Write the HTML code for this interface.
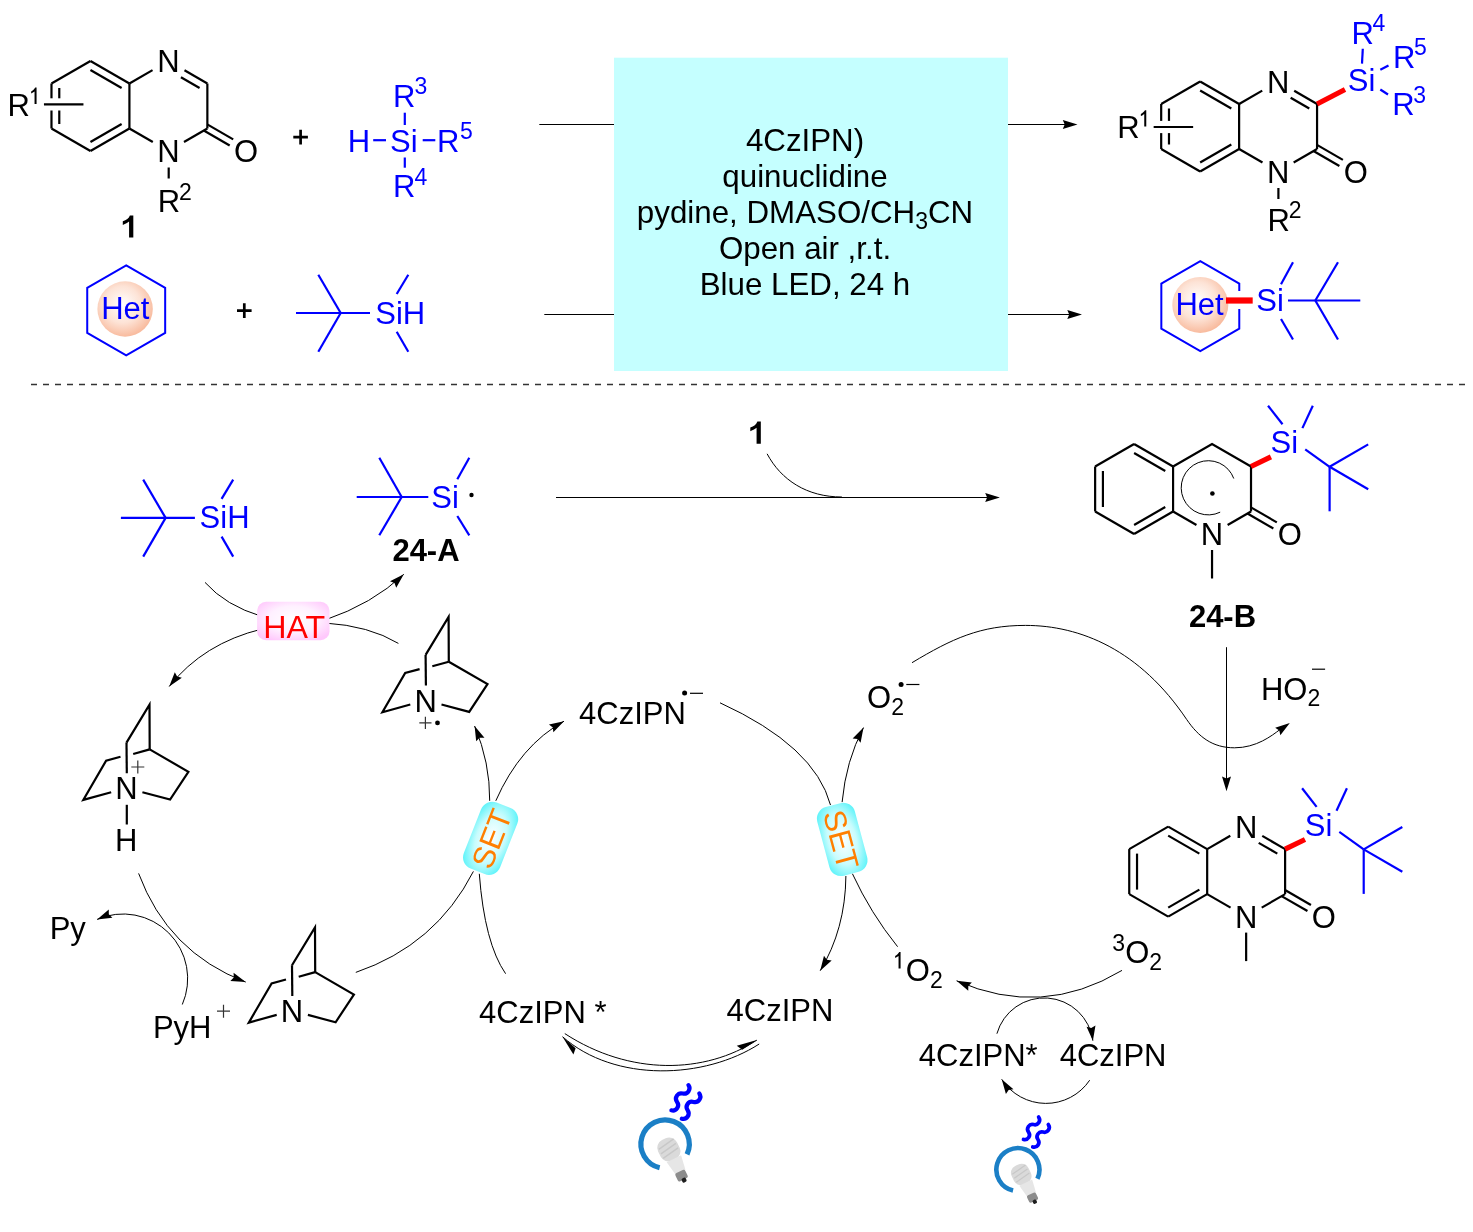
<!DOCTYPE html>
<html><head><meta charset="utf-8"><style>
html,body{margin:0;padding:0;background:#fff;}
svg{display:block;will-change:transform;font-family:"Liberation Sans",sans-serif;}
</style></head><body>
<svg width="1473" height="1232" viewBox="0 0 1473 1232">
<rect width="1473" height="1232" fill="#fff"/>
<line x1="90.45" y1="61.00" x2="129.42" y2="83.50" stroke="#000" stroke-width="2.2" stroke-linecap="butt"/>
<line x1="129.42" y1="83.50" x2="129.42" y2="128.50" stroke="#000" stroke-width="2.2" stroke-linecap="butt"/>
<line x1="129.42" y1="128.50" x2="90.45" y2="151.00" stroke="#000" stroke-width="2.2" stroke-linecap="butt"/>
<line x1="90.45" y1="151.00" x2="51.48" y2="128.50" stroke="#000" stroke-width="2.2" stroke-linecap="butt"/>
<line x1="51.48" y1="83.50" x2="90.45" y2="61.00" stroke="#000" stroke-width="2.2" stroke-linecap="butt"/>
<line x1="51.48" y1="128.50" x2="51.48" y2="110.50" stroke="#000" stroke-width="2.2" stroke-linecap="butt"/>
<line x1="51.48" y1="83.50" x2="51.48" y2="98.30" stroke="#000" stroke-width="2.2" stroke-linecap="butt"/>
<line x1="90.45" y1="70.00" x2="121.62" y2="88.00" stroke="#000" stroke-width="2.2" stroke-linecap="butt"/>
<line x1="121.62" y1="124.00" x2="90.45" y2="142.00" stroke="#000" stroke-width="2.2" stroke-linecap="butt"/>
<line x1="59.28" y1="124.00" x2="59.28" y2="110.50" stroke="#000" stroke-width="2.2" stroke-linecap="butt"/>
<line x1="59.28" y1="88.00" x2="59.28" y2="98.30" stroke="#000" stroke-width="2.2" stroke-linecap="butt"/>
<line x1="43.95" y1="104.40" x2="83.45" y2="104.40" stroke="#000" stroke-width="2.2" stroke-linecap="butt"/>
<line x1="129.42" y1="83.50" x2="152.54" y2="70.15" stroke="#000" stroke-width="2.2" stroke-linecap="butt"/>
<line x1="184.50" y1="70.30" x2="207.36" y2="83.50" stroke="#000" stroke-width="2.2" stroke-linecap="butt"/>
<line x1="180.95" y1="77.25" x2="199.57" y2="88.00" stroke="#000" stroke-width="2.2" stroke-linecap="butt"/>
<line x1="207.36" y1="83.50" x2="207.36" y2="128.50" stroke="#000" stroke-width="2.2" stroke-linecap="butt"/>
<line x1="207.36" y1="128.50" x2="183.98" y2="142.00" stroke="#000" stroke-width="2.2" stroke-linecap="butt"/>
<line x1="152.80" y1="142.00" x2="129.42" y2="128.50" stroke="#000" stroke-width="2.2" stroke-linecap="butt"/>
<line x1="207.29" y1="124.42" x2="233.19" y2="139.37" stroke="#000" stroke-width="2.2" stroke-linecap="butt"/>
<line x1="203.79" y1="130.48" x2="229.69" y2="145.43" stroke="#000" stroke-width="2.2" stroke-linecap="butt"/>
<text x="168.39" y="72.30" font-size="31" fill="#000" text-anchor="middle" font-weight="normal" >N</text>
<text x="168.39" y="162.20" font-size="31" fill="#000" text-anchor="middle" font-weight="normal" >N</text>
<text x="246.13" y="162.40" font-size="31" fill="#000" text-anchor="middle" font-weight="normal" >O</text>
<line x1="168.70" y1="167.50" x2="168.70" y2="178.50" stroke="#000" stroke-width="2.2" stroke-linecap="butt"/>
<text x="169.00" y="211.90" font-size="31" fill="#000" text-anchor="middle" font-weight="normal" >R</text>
<text x="179.00" y="199.70" font-size="23" fill="#000" text-anchor="start" font-weight="normal" >2</text>
<text x="7.60" y="115.80" font-size="31" fill="#000" text-anchor="start" font-weight="normal" >R</text>
<path d="M34.55,104.00 L36.57,104.00 L36.57,87.54 L35.25,87.54 Q34.73,88.60 33.53,89.75 Q32.32,90.89 31.16,91.47 L31.16,93.42 Q32.00,93.11 32.94,92.56 Q33.88,92.01 34.55,91.43 Z" fill="#000"/>
<path d="M129.08,237.60 L133.32,237.60 L133.32,215.41 L129.88,215.41 Q129.16,217.47 127.31,219.01 Q125.46,220.56 122.80,221.34 L122.80,225.04 Q124.16,224.58 125.98,223.60 Q127.80,222.61 129.08,221.48 Z" fill="#000"/>
<path d="M293.3,137.1 H307.9 M300.6,129.8 V144.5" stroke="#000" stroke-width="2.7"/>
<text x="359.00" y="151.80" font-size="31" fill="#0000ff" text-anchor="middle" font-weight="normal" >H</text>
<text x="403.80" y="151.80" font-size="31" fill="#0000ff" text-anchor="middle" font-weight="normal" >Si</text>
<text x="437.00" y="151.80" font-size="31" fill="#0000ff" text-anchor="start" font-weight="normal" >R</text>
<text x="460.00" y="138.60" font-size="23" fill="#0000ff" text-anchor="start" font-weight="normal" >5</text>
<text x="404.30" y="107.00" font-size="31" fill="#0000ff" text-anchor="middle" font-weight="normal" >R</text>
<text x="414.60" y="94.40" font-size="23" fill="#0000ff" text-anchor="start" font-weight="normal" >3</text>
<text x="404.30" y="196.60" font-size="31" fill="#0000ff" text-anchor="middle" font-weight="normal" >R</text>
<text x="414.60" y="184.80" font-size="23" fill="#0000ff" text-anchor="start" font-weight="normal" >4</text>
<line x1="373.20" y1="140.20" x2="386.00" y2="140.20" stroke="#0000ff" stroke-width="2.2" stroke-linecap="butt"/>
<line x1="422.70" y1="140.20" x2="435.30" y2="140.20" stroke="#0000ff" stroke-width="2.2" stroke-linecap="butt"/>
<line x1="404.80" y1="112.70" x2="404.80" y2="125.00" stroke="#0000ff" stroke-width="2.2" stroke-linecap="butt"/>
<line x1="404.80" y1="157.50" x2="404.80" y2="167.70" stroke="#0000ff" stroke-width="2.2" stroke-linecap="butt"/>
<rect x="614" y="57.7" width="394" height="313.3" fill="#c5ffff"/>
<text x="805.00" y="150.50" font-size="31.3" fill="#000" text-anchor="middle" font-weight="normal" >4CzIPN)</text>
<text x="805.00" y="187.00" font-size="31.3" fill="#000" text-anchor="middle" font-weight="normal" >quinuclidine</text>
<text x="805.00" y="223.00" font-size="31.3" fill="#000" text-anchor="middle" font-weight="normal" >pydine, DMASO/CH<tspan font-size="23" dy="6">3</tspan><tspan dy="-6">CN</tspan></text>
<text x="805.00" y="258.70" font-size="31.3" fill="#000" text-anchor="middle" font-weight="normal" >Open air ,r.t.</text>
<text x="805.00" y="294.70" font-size="31.3" fill="#000" text-anchor="middle" font-weight="normal" >Blue LED, 24 h</text>
<line x1="539.30" y1="124.50" x2="614.00" y2="124.50" stroke="#000" stroke-width="1.0" stroke-linecap="butt"/>
<line x1="1008.00" y1="124.50" x2="1070.00" y2="124.50" stroke="#000" stroke-width="1.0" stroke-linecap="butt"/>
<path d="M1077.50,124.50 L1062.80,129.00 L1064.70,124.50 L1062.80,120.00 Z" fill="#000" stroke="none"/>
<line x1="544.30" y1="314.50" x2="614.00" y2="314.50" stroke="#000" stroke-width="1.0" stroke-linecap="butt"/>
<line x1="1008.00" y1="314.50" x2="1075.00" y2="314.50" stroke="#000" stroke-width="1.0" stroke-linecap="butt"/>
<path d="M1082.00,314.50 L1067.30,319.00 L1069.20,314.50 L1067.30,310.00 Z" fill="#000" stroke="none"/>
<line x1="1200.15" y1="81.50" x2="1239.12" y2="104.00" stroke="#000" stroke-width="2.2" stroke-linecap="butt"/>
<line x1="1239.12" y1="104.00" x2="1239.12" y2="149.00" stroke="#000" stroke-width="2.2" stroke-linecap="butt"/>
<line x1="1239.12" y1="149.00" x2="1200.15" y2="171.50" stroke="#000" stroke-width="2.2" stroke-linecap="butt"/>
<line x1="1200.15" y1="171.50" x2="1161.18" y2="149.00" stroke="#000" stroke-width="2.2" stroke-linecap="butt"/>
<line x1="1161.18" y1="104.00" x2="1200.15" y2="81.50" stroke="#000" stroke-width="2.2" stroke-linecap="butt"/>
<line x1="1161.18" y1="149.00" x2="1161.18" y2="133.10" stroke="#000" stroke-width="2.2" stroke-linecap="butt"/>
<line x1="1161.18" y1="104.00" x2="1161.18" y2="120.90" stroke="#000" stroke-width="2.2" stroke-linecap="butt"/>
<line x1="1200.15" y1="90.50" x2="1231.32" y2="108.50" stroke="#000" stroke-width="2.2" stroke-linecap="butt"/>
<line x1="1231.32" y1="144.50" x2="1200.15" y2="162.50" stroke="#000" stroke-width="2.2" stroke-linecap="butt"/>
<line x1="1168.98" y1="144.50" x2="1168.98" y2="133.10" stroke="#000" stroke-width="2.2" stroke-linecap="butt"/>
<line x1="1168.98" y1="108.50" x2="1168.98" y2="120.90" stroke="#000" stroke-width="2.2" stroke-linecap="butt"/>
<line x1="1153.65" y1="127.00" x2="1193.15" y2="127.00" stroke="#000" stroke-width="2.2" stroke-linecap="butt"/>
<line x1="1239.12" y1="104.00" x2="1262.24" y2="90.65" stroke="#000" stroke-width="2.2" stroke-linecap="butt"/>
<line x1="1294.20" y1="90.80" x2="1317.06" y2="104.00" stroke="#000" stroke-width="2.2" stroke-linecap="butt"/>
<line x1="1290.65" y1="97.75" x2="1309.27" y2="108.50" stroke="#000" stroke-width="2.2" stroke-linecap="butt"/>
<line x1="1317.06" y1="104.00" x2="1317.06" y2="149.00" stroke="#000" stroke-width="2.2" stroke-linecap="butt"/>
<line x1="1317.06" y1="149.00" x2="1293.68" y2="162.50" stroke="#000" stroke-width="2.2" stroke-linecap="butt"/>
<line x1="1262.50" y1="162.50" x2="1239.12" y2="149.00" stroke="#000" stroke-width="2.2" stroke-linecap="butt"/>
<line x1="1316.99" y1="144.92" x2="1342.89" y2="159.87" stroke="#000" stroke-width="2.2" stroke-linecap="butt"/>
<line x1="1313.49" y1="150.98" x2="1339.39" y2="165.93" stroke="#000" stroke-width="2.2" stroke-linecap="butt"/>
<text x="1278.09" y="92.80" font-size="31" fill="#000" text-anchor="middle" font-weight="normal" >N</text>
<text x="1278.09" y="182.70" font-size="31" fill="#000" text-anchor="middle" font-weight="normal" >N</text>
<text x="1355.83" y="182.90" font-size="31" fill="#000" text-anchor="middle" font-weight="normal" >O</text>
<line x1="1278.40" y1="188.00" x2="1278.40" y2="199.00" stroke="#000" stroke-width="2.2" stroke-linecap="butt"/>
<text x="1278.70" y="230.50" font-size="31" fill="#000" text-anchor="middle" font-weight="normal" >R</text>
<text x="1288.70" y="218.30" font-size="23" fill="#000" text-anchor="start" font-weight="normal" >2</text>
<text x="1117.30" y="138.40" font-size="31" fill="#000" text-anchor="start" font-weight="normal" >R</text>
<path d="M1144.25,126.60 L1146.27,126.60 L1146.27,110.14 L1144.95,110.14 Q1144.43,111.20 1143.23,112.35 Q1142.02,113.49 1140.86,114.07 L1140.86,116.02 Q1141.70,115.71 1142.64,115.16 Q1143.58,114.61 1144.25,114.03 Z" fill="#000"/>
<line x1="1317.06" y1="104.00" x2="1345.00" y2="89.50" stroke="#ff0000" stroke-width="5.2" stroke-linecap="butt"/>
<text x="1361.50" y="91.00" font-size="31" fill="#0000ff" text-anchor="middle" font-weight="normal" >Si</text>
<text x="1351.40" y="43.50" font-size="31" fill="#0000ff" text-anchor="start" font-weight="normal" >R</text>
<text x="1372.40" y="30.70" font-size="23" fill="#0000ff" text-anchor="start" font-weight="normal" >4</text>
<text x="1393.00" y="68.20" font-size="31" fill="#0000ff" text-anchor="start" font-weight="normal" >R</text>
<text x="1414.00" y="55.00" font-size="23" fill="#0000ff" text-anchor="start" font-weight="normal" >5</text>
<text x="1392.20" y="115.30" font-size="31" fill="#0000ff" text-anchor="start" font-weight="normal" >R</text>
<text x="1413.20" y="102.50" font-size="23" fill="#0000ff" text-anchor="start" font-weight="normal" >3</text>
<line x1="1362.80" y1="48.80" x2="1362.00" y2="63.60" stroke="#0000ff" stroke-width="2.2" stroke-linecap="butt"/>
<line x1="1380.30" y1="69.80" x2="1388.50" y2="65.50" stroke="#0000ff" stroke-width="2.2" stroke-linecap="butt"/>
<line x1="1380.30" y1="89.50" x2="1388.00" y2="94.50" stroke="#0000ff" stroke-width="2.2" stroke-linecap="butt"/>
<defs><radialGradient id="hg" cx="0.45" cy="0.42" r="0.6"><stop offset="0" stop-color="#ffffff"/><stop offset="0.55" stop-color="#fde3d6"/><stop offset="1" stop-color="#f8b89a"/></radialGradient><radialGradient id="sg" cx="0.5" cy="0.5" r="0.6"><stop offset="0" stop-color="#ffffff"/><stop offset="0.6" stop-color="#c8fcfd"/><stop offset="1" stop-color="#66f4fa"/></radialGradient><radialGradient id="pg" cx="0.5" cy="0.45" r="0.62"><stop offset="0" stop-color="#ffffff"/><stop offset="0.55" stop-color="#fff0ff"/><stop offset="1" stop-color="#ffc8fc"/></radialGradient></defs>
<path d="M126.20,265.40 L165.17,287.90 L165.17,332.90 L126.20,355.40 L87.23,332.90 L87.23,287.90 Z" fill="none" stroke="#0000ff" stroke-width="2" stroke-linejoin="miter"/>
<circle cx="125.1" cy="309" r="27.7" fill="url(#hg)"/>
<text x="125.30" y="318.80" font-size="31" fill="#0000ff" text-anchor="middle" font-weight="normal" >Het</text>
<path d="M237,310.6 H251.6 M244.3,303.3 V318" stroke="#000" stroke-width="2.7"/>
<line x1="296.00" y1="313.00" x2="370.00" y2="313.00" stroke="#0000ff" stroke-width="2.2" stroke-linecap="butt"/>
<line x1="340.70" y1="313.00" x2="318.30" y2="274.70" stroke="#0000ff" stroke-width="2.2" stroke-linecap="butt"/>
<line x1="340.70" y1="313.00" x2="318.30" y2="351.70" stroke="#0000ff" stroke-width="2.2" stroke-linecap="butt"/>
<line x1="396.70" y1="294.00" x2="408.30" y2="274.70" stroke="#0000ff" stroke-width="2.2" stroke-linecap="butt"/>
<line x1="396.70" y1="331.70" x2="408.30" y2="351.70" stroke="#0000ff" stroke-width="2.2" stroke-linecap="butt"/>
<text x="375.30" y="323.70" font-size="31" fill="#0000ff" text-anchor="start" font-weight="normal" >SiH</text>
<path d="M1239.27,291.00 L1239.27,283.70 L1200.30,261.20 L1161.33,283.70 L1161.33,328.70 L1200.30,351.20 L1239.27,328.70 L1239.27,309.00" fill="none" stroke="#0000ff" stroke-width="2" stroke-linejoin="miter"/>
<circle cx="1200.3" cy="304.9" r="28" fill="url(#hg)"/>
<text x="1199.50" y="314.80" font-size="31" fill="#0000ff" text-anchor="middle" font-weight="normal" >Het</text>
<line x1="1226.00" y1="300.50" x2="1252.70" y2="300.50" stroke="#ff0000" stroke-width="6.2" stroke-linecap="butt"/>
<text x="1270.00" y="311.30" font-size="31" fill="#0000ff" text-anchor="middle" font-weight="normal" >Si</text>
<line x1="1281.00" y1="284.30" x2="1293.00" y2="262.20" stroke="#0000ff" stroke-width="2.2" stroke-linecap="butt"/>
<line x1="1281.00" y1="319.00" x2="1293.00" y2="339.50" stroke="#0000ff" stroke-width="2.2" stroke-linecap="butt"/>
<line x1="1288.00" y1="300.50" x2="1360.30" y2="300.50" stroke="#0000ff" stroke-width="2.2" stroke-linecap="butt"/>
<line x1="1315.30" y1="300.50" x2="1338.00" y2="262.20" stroke="#0000ff" stroke-width="2.2" stroke-linecap="butt"/>
<line x1="1315.30" y1="300.50" x2="1338.00" y2="339.50" stroke="#0000ff" stroke-width="2.2" stroke-linecap="butt"/>
<line x1="31.00" y1="384.50" x2="1465.00" y2="384.50" stroke="#333" stroke-width="1.6" stroke-linecap="butt" stroke-dasharray="6 6"/>
<line x1="120.90" y1="517.90" x2="194.90" y2="517.90" stroke="#0000ff" stroke-width="2.2" stroke-linecap="butt"/>
<line x1="165.60" y1="517.90" x2="143.20" y2="479.60" stroke="#0000ff" stroke-width="2.2" stroke-linecap="butt"/>
<line x1="165.60" y1="517.90" x2="143.20" y2="556.60" stroke="#0000ff" stroke-width="2.2" stroke-linecap="butt"/>
<line x1="221.60" y1="498.90" x2="233.20" y2="479.60" stroke="#0000ff" stroke-width="2.2" stroke-linecap="butt"/>
<line x1="221.60" y1="536.60" x2="233.20" y2="556.60" stroke="#0000ff" stroke-width="2.2" stroke-linecap="butt"/>
<text x="199.60" y="528.30" font-size="31" fill="#0000ff" text-anchor="start" font-weight="normal" >SiH</text>
<line x1="356.70" y1="497.00" x2="428.30" y2="497.00" stroke="#0000ff" stroke-width="2.2" stroke-linecap="butt"/>
<line x1="401.70" y1="497.00" x2="379.30" y2="457.70" stroke="#0000ff" stroke-width="2.2" stroke-linecap="butt"/>
<line x1="401.70" y1="497.00" x2="379.30" y2="535.30" stroke="#0000ff" stroke-width="2.2" stroke-linecap="butt"/>
<line x1="457.30" y1="479.30" x2="469.30" y2="457.70" stroke="#0000ff" stroke-width="2.2" stroke-linecap="butt"/>
<line x1="457.30" y1="516.00" x2="469.30" y2="535.30" stroke="#0000ff" stroke-width="2.2" stroke-linecap="butt"/>
<text x="431.30" y="507.70" font-size="31" fill="#0000ff" text-anchor="start" font-weight="normal" >Si</text>
<circle cx="471.5" cy="495" r="2.2" fill="#000"/>
<text x="426.00" y="561.00" font-size="31" fill="#000" text-anchor="middle" font-weight="bold" >24-A</text>
<path d="M205.00,582.40 Q225.50,605.55 262.00,616.50" fill="none" stroke="#000" stroke-width="1.0"/>
<path d="M325.00,620.00 Q372.60,603.85 403.80,574.30" fill="none" stroke="#000" stroke-width="1.0"/>
<path d="M403.80,574.30 L396.22,587.68 L394.51,583.10 L390.03,581.14 Z" fill="#000" stroke="none"/>
<path d="M398.40,643.40 Q369.30,625.80 325.00,623.00" fill="none" stroke="#000" stroke-width="1.0"/>
<path d="M262.00,629.00 Q203.40,643.25 169.20,686.50" fill="none" stroke="#000" stroke-width="1.0"/>
<path d="M169.20,686.50 L174.79,672.18 L177.14,676.46 L181.85,677.76 Z" fill="#000" stroke="none"/>
<rect x="257.1" y="601.8" width="72.4" height="38.4" rx="9" ry="9" fill="url(#pg)"/>
<text x="294.20" y="638.30" font-size="32.2" fill="#ff0000" text-anchor="middle" font-weight="normal" >HAT</text>
<path d="M425.60,654.90 L448.60,617.00 L448.80,661.70" fill="none" stroke="#000" stroke-width="2.2" stroke-linejoin="miter"/>
<line x1="425.60" y1="654.90" x2="425.90" y2="685.50" stroke="#000" stroke-width="2.2" stroke-linecap="butt"/>
<path d="M448.80,661.70 L432.30,666.30" fill="none" stroke="#000" stroke-width="2.2" stroke-linejoin="miter"/>
<path d="M419.60,669.10 L405.20,673.00 L382.40,712.20 L410.30,704.50" fill="none" stroke="#000" stroke-width="2.2" stroke-linejoin="miter"/>
<path d="M448.80,661.70 L487.50,684.10 L469.20,711.90 L441.50,704.50" fill="none" stroke="#000" stroke-width="2.2" stroke-linejoin="miter"/>
<text x="425.60" y="711.60" font-size="31" fill="#000" text-anchor="middle" font-weight="normal" >N</text>
<path d="M419.3,722.9 H431.5 M425.4,716.8 V729" stroke="#333" stroke-width="1.2"/>
<circle cx="437.5" cy="722.9" r="2.4" fill="#000"/>
<path d="M126.50,742.60 L149.50,704.70 L149.70,749.40" fill="none" stroke="#000" stroke-width="2.2" stroke-linejoin="miter"/>
<line x1="126.50" y1="742.60" x2="126.80" y2="773.20" stroke="#000" stroke-width="2.2" stroke-linecap="butt"/>
<path d="M149.70,749.40 L133.20,754.00" fill="none" stroke="#000" stroke-width="2.2" stroke-linejoin="miter"/>
<path d="M120.50,756.80 L106.10,760.70 L83.30,799.90 L111.20,792.20" fill="none" stroke="#000" stroke-width="2.2" stroke-linejoin="miter"/>
<path d="M149.70,749.40 L188.40,771.80 L170.10,799.60 L142.40,792.20" fill="none" stroke="#000" stroke-width="2.2" stroke-linejoin="miter"/>
<text x="126.50" y="799.30" font-size="31" fill="#000" text-anchor="middle" font-weight="normal" >N</text>
<path d="M131.3,767 H144.3 M137.8,760.5 V773.5" stroke="#333" stroke-width="1.2"/>
<line x1="126.80" y1="804.80" x2="126.80" y2="824.50" stroke="#000" stroke-width="2.2" stroke-linecap="butt"/>
<text x="126.20" y="850.80" font-size="31" fill="#000" text-anchor="middle" font-weight="normal" >H</text>
<path d="M292.00,965.30 L315.00,927.40 L315.20,972.10" fill="none" stroke="#000" stroke-width="2.2" stroke-linejoin="miter"/>
<line x1="292.00" y1="965.30" x2="292.30" y2="995.90" stroke="#000" stroke-width="2.2" stroke-linecap="butt"/>
<path d="M315.20,972.10 L298.70,976.70" fill="none" stroke="#000" stroke-width="2.2" stroke-linejoin="miter"/>
<path d="M286.00,979.50 L271.60,983.40 L248.80,1022.60 L276.70,1014.90" fill="none" stroke="#000" stroke-width="2.2" stroke-linejoin="miter"/>
<path d="M315.20,972.10 L353.90,994.50 L335.60,1022.30 L307.90,1014.90" fill="none" stroke="#000" stroke-width="2.2" stroke-linejoin="miter"/>
<text x="292.00" y="1022.00" font-size="31" fill="#000" text-anchor="middle" font-weight="normal" >N</text>
<text x="49.70" y="939.10" font-size="31" fill="#000" text-anchor="start" font-weight="normal" >Py</text>
<text x="152.90" y="1037.70" font-size="31" fill="#000" text-anchor="start" font-weight="normal" >PyH</text>
<path d="M217,1011.2 H230 M223.5,1004.7 V1017.7" stroke="#333" stroke-width="1.2"/>
<path d="M138.60,873.40 Q167.85,952.25 245.70,982.10" fill="none" stroke="#000" stroke-width="1.0"/>
<path d="M245.70,982.10 L230.36,981.04 L233.75,977.52 L233.59,972.64 Z" fill="#000" stroke="none"/>
<path d="M182.30,1004.50 A64.68,64.68 0 0 0 97.10,919.40" fill="none" stroke="#000" stroke-width="1.0"/>
<path d="M97.10,919.40 L108.77,909.39 L108.83,914.27 L112.37,917.63 Z" fill="#000" stroke="none"/>
<line x1="556.00" y1="497.50" x2="990.00" y2="497.50" stroke="#000" stroke-width="1.0" stroke-linecap="butt"/>
<path d="M999.90,497.50 L985.20,502.00 L987.10,497.50 L985.20,493.00 Z" fill="#000" stroke="none"/>
<path d="M756.58,443.80 L760.82,443.80 L760.82,421.61 L757.38,421.61 Q756.66,423.67 754.81,425.21 Q752.96,426.76 750.30,427.54 L750.30,431.24 Q751.66,430.78 753.48,429.80 Q755.30,428.81 756.58,427.68 Z" fill="#000"/>
<path d="M767.10,453.80 C781.10,480.00 806.90,497.00 841.90,497.00" fill="none" stroke="#000" stroke-width="1.0"/>
<text x="579.10" y="723.50" font-size="31" fill="#000" text-anchor="start" font-weight="normal" >4CzIPN</text>
<circle cx="684.6" cy="693.1" r="2.5" fill="#000"/>
<line x1="690.00" y1="693.30" x2="703.00" y2="693.30" stroke="#000" stroke-width="1.2" stroke-linecap="butt"/>
<path d="M355.80,972.40 Q435.80,945.10 473.40,871.40" fill="none" stroke="#000" stroke-width="1.0"/>
<path d="M495.80,800.80 Q520.10,745.60 564.00,721.20" fill="none" stroke="#000" stroke-width="1.0"/>
<path d="M564.00,721.20 L553.34,732.27 L552.81,727.42 L548.97,724.41 Z" fill="#000" stroke="none"/>
<path d="M505.60,973.70 Q484.55,943.25 479.30,873.80" fill="none" stroke="#000" stroke-width="1.0"/>
<path d="M489.70,800.80 Q490.05,762.60 474.60,726.00" fill="none" stroke="#000" stroke-width="1.0"/>
<path d="M474.60,726.00 L484.46,737.79 L479.58,737.79 L476.17,741.29 Z" fill="#000" stroke="none"/>
<g transform="translate(490.6,838.3) rotate(-68.5)"><rect x="-35.5" y="-19.5" width="71" height="39" rx="12" ry="12" fill="url(#sg)"/><text x="0" y="12" font-size="31" fill="#ff7f00" text-anchor="middle">SET</text></g>
<path d="M720.00,702.80 Q814.75,746.10 830.50,805.00" fill="none" stroke="#000" stroke-width="1.0"/>
<path d="M845.90,876.00 Q845.35,929.25 820.20,970.70" fill="none" stroke="#000" stroke-width="1.0"/>
<path d="M820.20,970.70 L823.98,955.80 L826.84,959.76 L831.67,960.47 Z" fill="#000" stroke="none"/>
<path d="M897.60,946.70 Q870.60,913.20 852.40,873.70" fill="none" stroke="#000" stroke-width="1.0"/>
<path d="M842.10,802.10 Q846.00,760.55 863.50,727.60" fill="none" stroke="#000" stroke-width="1.0"/>
<path d="M863.50,727.60 L860.58,742.69 L857.50,738.90 L852.63,738.47 Z" fill="#000" stroke="none"/>
<g transform="translate(842.2,839.4) rotate(75)"><rect x="-35.5" y="-19.5" width="71" height="39" rx="12" ry="12" fill="url(#sg)"/><text x="0" y="12" font-size="31" fill="#ff7f00" text-anchor="middle">SET</text></g>
<text x="867.10" y="707.80" font-size="31" fill="#000" text-anchor="start" font-weight="normal" >O</text>
<text x="891.20" y="715.10" font-size="23" fill="#000" text-anchor="start" font-weight="normal" >2</text>
<circle cx="901.1" cy="684.5" r="2.5" fill="#000"/>
<line x1="906.30" y1="684.50" x2="919.40" y2="684.50" stroke="#000" stroke-width="1.2" stroke-linecap="butt"/>
<text x="479.00" y="1023.00" font-size="31" fill="#000" text-anchor="start" font-weight="normal" >4CzIPN *</text>
<text x="726.60" y="1021.30" font-size="31" fill="#000" text-anchor="start" font-weight="normal" >4CzIPN</text>
<path d="M564.80,1033.60 C630.00,1076.00 705.00,1074.00 756.90,1040.10" fill="none" stroke="#000" stroke-width="1.0"/>
<path d="M756.90,1040.10 L742.25,1049.67 L736.76,1045.85 Z" fill="#000" stroke="none"/>
<path d="M759.20,1044.00 C705.00,1079.00 615.00,1083.00 562.50,1036.70" fill="none" stroke="#000" stroke-width="1.0"/>
<path d="M562.50,1036.70 L575.63,1048.28 L573.40,1054.58 Z" fill="#000" stroke="none"/>
<path d="M898.55,968.50 L900.57,968.50 L900.57,952.04 L899.25,952.04 Q898.73,953.10 897.53,954.25 Q896.32,955.39 895.16,955.97 L895.16,957.92 Q896.00,957.61 896.94,957.06 Q897.88,956.51 898.55,955.93 Z" fill="#000"/>
<text x="905.70" y="980.70" font-size="31" fill="#000" text-anchor="start" font-weight="normal" >O</text>
<text x="929.90" y="987.90" font-size="23" fill="#000" text-anchor="start" font-weight="normal" >2</text>
<path d="M912,662.7 C952,638.7 980.4,625.4 1025.4,625.4 C1080.4,625.4 1140,650 1186.7,719.5 C1198.7,737 1212.5,747.8 1234.5,747.8 C1256.5,747.8 1271.8,735.7 1280,729.5" fill="none" stroke="#000" stroke-width="1.0"/>
<path d="M1289.80,723.10 L1280.34,735.22 L1279.31,730.44 L1275.18,727.84 Z" fill="#000" stroke="none"/>
<text x="1222.50" y="626.90" font-size="31" fill="#000" text-anchor="middle" font-weight="bold" >24-B</text>
<line x1="1226.50" y1="647.20" x2="1226.50" y2="780.00" stroke="#000" stroke-width="1.0" stroke-linecap="butt"/>
<path d="M1226.50,791.20 L1222.00,776.50 L1226.50,778.40 L1231.00,776.50 Z" fill="#000" stroke="none"/>
<text x="1260.90" y="699.50" font-size="31" fill="#000" text-anchor="start" font-weight="normal" >HO</text>
<text x="1307.60" y="706.30" font-size="23" fill="#000" text-anchor="start" font-weight="normal" >2</text>
<line x1="1312.00" y1="669.20" x2="1325.10" y2="669.20" stroke="#000" stroke-width="1.2" stroke-linecap="butt"/>
<path d="M1122.00,970.40 Q1042.10,1018.40 956.60,980.80" fill="none" stroke="#000" stroke-width="1.0"/>
<path d="M956.60,980.80 L971.87,982.60 L968.32,985.95 L968.24,990.84 Z" fill="#000" stroke="none"/>
<text x="1112.30" y="951.30" font-size="23" fill="#000" text-anchor="start" font-weight="normal" >3</text>
<text x="1125.20" y="963.30" font-size="31" fill="#000" text-anchor="start" font-weight="normal" >O</text>
<text x="1149.30" y="970.40" font-size="23" fill="#000" text-anchor="start" font-weight="normal" >2</text>
<path d="M996.90,1033.70 A49.13,49.13 0 0 1 1092.90,1040.70" fill="none" stroke="#000" stroke-width="1.0"/>
<path d="M1092.90,1040.70 L1086.55,1026.70 L1091.25,1028.01 L1095.47,1025.54 Z" fill="#000" stroke="none"/>
<path d="M1089.70,1080.20 A52.76,52.76 0 0 1 1001.70,1079.30" fill="none" stroke="#000" stroke-width="1.0"/>
<path d="M1001.70,1079.30 L1013.46,1089.20 L1008.65,1090.05 L1005.91,1094.09 Z" fill="#000" stroke="none"/>
<text x="918.80" y="1066.40" font-size="31" fill="#000" text-anchor="start" font-weight="normal" >4CzIPN*</text>
<text x="1059.70" y="1066.40" font-size="31" fill="#000" text-anchor="start" font-weight="normal" >4CzIPN</text>
<line x1="1134.10" y1="444.00" x2="1173.07" y2="466.50" stroke="#000" stroke-width="2.2" stroke-linecap="butt"/>
<line x1="1173.07" y1="466.50" x2="1173.07" y2="511.50" stroke="#000" stroke-width="2.2" stroke-linecap="butt"/>
<line x1="1173.07" y1="511.50" x2="1134.10" y2="534.00" stroke="#000" stroke-width="2.2" stroke-linecap="butt"/>
<line x1="1134.10" y1="534.00" x2="1095.13" y2="511.50" stroke="#000" stroke-width="2.2" stroke-linecap="butt"/>
<line x1="1095.13" y1="511.50" x2="1095.13" y2="466.50" stroke="#000" stroke-width="2.2" stroke-linecap="butt"/>
<line x1="1095.13" y1="466.50" x2="1134.10" y2="444.00" stroke="#000" stroke-width="2.2" stroke-linecap="butt"/>
<line x1="1134.10" y1="453.00" x2="1165.27" y2="471.00" stroke="#000" stroke-width="2.2" stroke-linecap="butt"/>
<line x1="1165.27" y1="507.00" x2="1134.10" y2="525.00" stroke="#000" stroke-width="2.2" stroke-linecap="butt"/>
<line x1="1102.93" y1="507.00" x2="1102.93" y2="471.00" stroke="#000" stroke-width="2.2" stroke-linecap="butt"/>
<path d="M1173.07,466.50 L1212.04,444.00 L1251.01,466.50" fill="none" stroke="#000" stroke-width="2.2" stroke-linejoin="miter"/>
<line x1="1251.01" y1="466.50" x2="1251.01" y2="511.50" stroke="#000" stroke-width="2.2" stroke-linecap="butt"/>
<line x1="1251.01" y1="511.50" x2="1227.63" y2="525.00" stroke="#000" stroke-width="2.2" stroke-linecap="butt"/>
<line x1="1196.45" y1="525.00" x2="1173.07" y2="511.50" stroke="#000" stroke-width="2.2" stroke-linecap="butt"/>
<line x1="1250.94" y1="507.42" x2="1276.84" y2="522.37" stroke="#000" stroke-width="2.2" stroke-linecap="butt"/>
<line x1="1247.44" y1="513.48" x2="1273.34" y2="528.43" stroke="#000" stroke-width="2.2" stroke-linecap="butt"/>
<text x="1212.04" y="545.20" font-size="31" fill="#000" text-anchor="middle" font-weight="normal" >N</text>
<text x="1289.78" y="545.40" font-size="31" fill="#000" text-anchor="middle" font-weight="normal" >O</text>
<line x1="1212.04" y1="550.00" x2="1212.04" y2="578.50" stroke="#000" stroke-width="2.2" stroke-linecap="butt"/>
<line x1="1251.01" y1="466.50" x2="1270.91" y2="456.90" stroke="#ff0000" stroke-width="5.2" stroke-linecap="butt"/>
<text x="1270.61" y="453.00" font-size="31" fill="#0000ff" text-anchor="start" font-weight="normal" >Si</text>
<line x1="1282.51" y1="424.30" x2="1268.01" y2="405.70" stroke="#0000ff" stroke-width="2.2" stroke-linecap="butt"/>
<line x1="1302.41" y1="428.10" x2="1312.81" y2="405.70" stroke="#0000ff" stroke-width="2.2" stroke-linecap="butt"/>
<line x1="1305.21" y1="449.30" x2="1329.61" y2="466.80" stroke="#0000ff" stroke-width="2.2" stroke-linecap="butt"/>
<line x1="1329.61" y1="466.80" x2="1368.21" y2="444.40" stroke="#0000ff" stroke-width="2.2" stroke-linecap="butt"/>
<line x1="1329.61" y1="466.80" x2="1368.21" y2="489.20" stroke="#0000ff" stroke-width="2.2" stroke-linecap="butt"/>
<line x1="1329.61" y1="466.80" x2="1329.61" y2="511.30" stroke="#0000ff" stroke-width="2.2" stroke-linecap="butt"/>
<path d="M1233.77,478.53 A27.1,27.1 0 1 0 1220.18,512.16" fill="none" stroke="#000" stroke-width="1"/>
<circle cx="1212.4" cy="493.5" r="2.3" fill="#000"/>
<line x1="1168.20" y1="826.60" x2="1207.17" y2="849.10" stroke="#000" stroke-width="2.2" stroke-linecap="butt"/>
<line x1="1207.17" y1="849.10" x2="1207.17" y2="894.10" stroke="#000" stroke-width="2.2" stroke-linecap="butt"/>
<line x1="1207.17" y1="894.10" x2="1168.20" y2="916.60" stroke="#000" stroke-width="2.2" stroke-linecap="butt"/>
<line x1="1168.20" y1="916.60" x2="1129.23" y2="894.10" stroke="#000" stroke-width="2.2" stroke-linecap="butt"/>
<line x1="1129.23" y1="894.10" x2="1129.23" y2="849.10" stroke="#000" stroke-width="2.2" stroke-linecap="butt"/>
<line x1="1129.23" y1="849.10" x2="1168.20" y2="826.60" stroke="#000" stroke-width="2.2" stroke-linecap="butt"/>
<line x1="1168.20" y1="835.60" x2="1199.37" y2="853.60" stroke="#000" stroke-width="2.2" stroke-linecap="butt"/>
<line x1="1199.37" y1="889.60" x2="1168.20" y2="907.60" stroke="#000" stroke-width="2.2" stroke-linecap="butt"/>
<line x1="1137.03" y1="889.60" x2="1137.03" y2="853.60" stroke="#000" stroke-width="2.2" stroke-linecap="butt"/>
<line x1="1207.17" y1="849.10" x2="1230.29" y2="835.75" stroke="#000" stroke-width="2.2" stroke-linecap="butt"/>
<line x1="1262.25" y1="835.90" x2="1285.11" y2="849.10" stroke="#000" stroke-width="2.2" stroke-linecap="butt"/>
<line x1="1258.70" y1="842.85" x2="1277.32" y2="853.60" stroke="#000" stroke-width="2.2" stroke-linecap="butt"/>
<text x="1246.14" y="837.90" font-size="31" fill="#000" text-anchor="middle" font-weight="normal" >N</text>
<line x1="1285.11" y1="849.10" x2="1285.11" y2="894.10" stroke="#000" stroke-width="2.2" stroke-linecap="butt"/>
<line x1="1285.11" y1="894.10" x2="1261.73" y2="907.60" stroke="#000" stroke-width="2.2" stroke-linecap="butt"/>
<line x1="1230.55" y1="907.60" x2="1207.17" y2="894.10" stroke="#000" stroke-width="2.2" stroke-linecap="butt"/>
<line x1="1285.04" y1="890.02" x2="1310.94" y2="904.97" stroke="#000" stroke-width="2.2" stroke-linecap="butt"/>
<line x1="1281.54" y1="896.08" x2="1307.44" y2="911.03" stroke="#000" stroke-width="2.2" stroke-linecap="butt"/>
<text x="1246.14" y="927.80" font-size="31" fill="#000" text-anchor="middle" font-weight="normal" >N</text>
<text x="1323.88" y="928.00" font-size="31" fill="#000" text-anchor="middle" font-weight="normal" >O</text>
<line x1="1246.14" y1="932.60" x2="1246.14" y2="961.10" stroke="#000" stroke-width="2.2" stroke-linecap="butt"/>
<line x1="1285.11" y1="849.10" x2="1305.01" y2="839.50" stroke="#ff0000" stroke-width="5.2" stroke-linecap="butt"/>
<text x="1304.71" y="835.60" font-size="31" fill="#0000ff" text-anchor="start" font-weight="normal" >Si</text>
<line x1="1316.61" y1="806.90" x2="1302.11" y2="788.30" stroke="#0000ff" stroke-width="2.2" stroke-linecap="butt"/>
<line x1="1336.51" y1="810.70" x2="1346.91" y2="788.30" stroke="#0000ff" stroke-width="2.2" stroke-linecap="butt"/>
<line x1="1339.31" y1="831.90" x2="1363.71" y2="849.40" stroke="#0000ff" stroke-width="2.2" stroke-linecap="butt"/>
<line x1="1363.71" y1="849.40" x2="1402.31" y2="827.00" stroke="#0000ff" stroke-width="2.2" stroke-linecap="butt"/>
<line x1="1363.71" y1="849.40" x2="1402.31" y2="871.80" stroke="#0000ff" stroke-width="2.2" stroke-linecap="butt"/>
<line x1="1363.71" y1="849.40" x2="1363.71" y2="893.90" stroke="#0000ff" stroke-width="2.2" stroke-linecap="butt"/>
<g transform="translate(665.1,1144.1) scale(1.0)"><path d="M-5.44,23.58 A24.2,24.2 0 1 1 21.93,10.23" fill="none" stroke="#1b7fc6" stroke-width="5.2"/><g transform="rotate(-26)"><rect x="-9.5" y="-5" width="21" height="23" rx="8.5" fill="#dadada"/><path d="M-8,2 L10,-1 M-8,7 L10,4 M-8,12 L10,9" stroke="#c8c8c8" stroke-width="1.4"/><path d="M-6.5,17 L9.5,17 L7,32 L-4,32 Z" fill="#e6e6e6"/><rect x="-4.5" y="31" width="11" height="9" rx="2" fill="#8c8c8c"/><rect x="-1" y="38.5" width="4.5" height="4.5" rx="1.5" fill="#1e1e1e"/></g><path transform="translate(6.30,-33.80) rotate(-56.00)" d="M0,0 A5.37,5.37 0 0 0 10.13,0 A5.37,5.37 0 0 1 20.27,0 A5.37,5.37 0 0 0 30.40,0" fill="none" stroke="#0000ff" stroke-width="4.2" stroke-linecap="round"/><path transform="translate(16.70,-25.40) rotate(-55.22)" d="M0,0 A5.42,5.42 0 0 0 10.23,0 A5.42,5.42 0 0 1 20.45,0 A5.42,5.42 0 0 0 30.68,0" fill="none" stroke="#0000ff" stroke-width="4.2" stroke-linecap="round"/></g>
<g transform="translate(1017.9,1169.6) scale(0.89)"><path d="M-5.44,23.58 A24.2,24.2 0 1 1 21.93,10.23" fill="none" stroke="#1b7fc6" stroke-width="5.2"/><g transform="rotate(-26)"><rect x="-9.5" y="-5" width="21" height="23" rx="8.5" fill="#dadada"/><path d="M-8,2 L10,-1 M-8,7 L10,4 M-8,12 L10,9" stroke="#c8c8c8" stroke-width="1.4"/><path d="M-6.5,17 L9.5,17 L7,32 L-4,32 Z" fill="#e6e6e6"/><rect x="-4.5" y="31" width="11" height="9" rx="2" fill="#8c8c8c"/><rect x="-1" y="38.5" width="4.5" height="4.5" rx="1.5" fill="#1e1e1e"/></g><path transform="translate(6.30,-33.80) rotate(-56.00)" d="M0,0 A5.37,5.37 0 0 0 10.13,0 A5.37,5.37 0 0 1 20.27,0 A5.37,5.37 0 0 0 30.40,0" fill="none" stroke="#0000ff" stroke-width="4.2" stroke-linecap="round"/><path transform="translate(16.70,-25.40) rotate(-55.22)" d="M0,0 A5.42,5.42 0 0 0 10.23,0 A5.42,5.42 0 0 1 20.45,0 A5.42,5.42 0 0 0 30.68,0" fill="none" stroke="#0000ff" stroke-width="4.2" stroke-linecap="round"/></g>
</svg></body></html>
